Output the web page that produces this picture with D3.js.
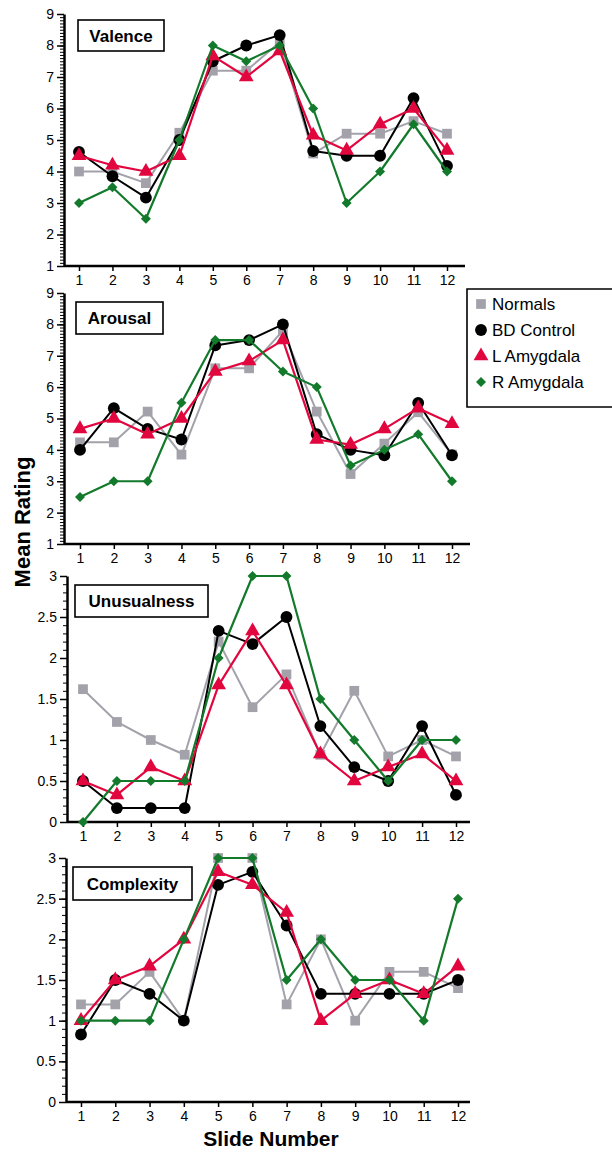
<!DOCTYPE html>
<html lang="en">
<head>
<meta charset="utf-8">
<script src="https://d3js.org/d3.v7.min.js"></script>
<style>
  body { margin: 0; background: #fff; }
  svg { font-family: "Liberation Sans", Arial, sans-serif; }
  .axis path, .axis line { stroke: #000; }
  .axis text { font-size: 14px; fill: #000; }
</style>
</head>
<body>
<svg id="chart" width="612" height="1152"></svg>
<script>
  // data
  const slides = [1, 2, 3, 4, 5, 6, 7, 8, 9, 10, 11, 12];
  const groups = ["Normals", "BD Control", "L Amygdala", "R Amygdala"];
  const measures = ["Valence", "Arousal", "Unusualness", "Complexity"];

  const valence = {
    "Normals":    [4.0, 4.0, 3.63, 5.23, 7.2, 7.2, 8.1, 4.57, 5.2, 5.2, 5.6, 5.2],
    "BD Control": [4.62, 3.85, 3.17, 5.0, 7.5, 8.0, 8.33, 4.65, 4.5, 4.5, 6.33, 4.18],
    "L Amygdala": [4.5, 4.2, 4.0, 4.5, 7.67, 7.0, 7.83, 5.15, 4.67, 5.5, 6.0, 4.67],
    "R Amygdala": [3.0, 3.5, 2.5, 5.0, 8.0, 7.5, 8.0, 6.0, 3.0, 4.0, 5.5, 4.0]
  };
  const arousal = {
    "Normals":    [4.24, 4.24, 5.22, 3.85, 6.6, 6.6, 7.8, 5.22, 3.23, 4.2, 5.2, 3.85],
    "BD Control": [4.0, 5.33, 4.67, 4.33, 7.33, 7.5, 8.0, 4.5, 4.0, 3.83, 5.5, 3.83],
    "L Amygdala": [4.67, 5.0, 4.5, 5.0, 6.5, 6.83, 7.5, 4.33, 4.17, 4.67, 5.33, 4.83],
    "R Amygdala": [2.5, 3.0, 3.0, 5.5, 7.5, 7.5, 6.5, 6.0, 3.5, 4.0, 4.5, 3.0]
  };
  const unusualness = {
    "Normals":    [1.62, 1.22, 1.0, 0.82, 2.2, 1.4, 1.8, 0.82, 1.6, 0.8, 1.0, 0.8],
    "BD Control": [0.5, 0.17, 0.17, 0.17, 2.33, 2.17, 2.5, 1.17, 0.67, 0.5, 1.17, 0.33],
    "L Amygdala": [0.5, 0.33, 0.67, 0.5, 1.67, 2.33, 1.67, 0.83, 0.5, 0.67, 0.83, 0.5],
    "R Amygdala": [0.0, 0.5, 0.5, 0.5, 2.0, 3.0, 3.0, 1.5, 1.0, 0.5, 1.0, 1.0]
  };
  const complexity = {
    "Normals":    [1.2, 1.2, 1.6, 1.0, 3.0, 3.0, 1.2, 2.0, 1.0, 1.6, 1.6, 1.4],
    "BD Control": [0.83, 1.5, 1.33, 1.0, 2.67, 2.83, 2.17, 1.33, 1.33, 1.33, 1.33, 1.5],
    "L Amygdala": [1.0, 1.5, 1.67, 2.0, 2.83, 2.67, 2.33, 1.0, 1.33, 1.5, 1.33, 1.67],
    "R Amygdala": [1.0, 1.0, 1.0, 2.0, 3.0, 3.0, 1.5, 2.0, 1.5, 1.5, 1.0, 2.5]
  };
  const seriesData = [valence, arousal, unusualness, complexity];

  const ratingTicks = [1, 2, 3, 4, 5, 6, 7, 8, 9];
  const smallTicks = [0, 0.5, 1, 1.5, 2, 2.5, 3];

  // layout of each panel
  const panels = [
    { domain: [1, 9], ticks: ratingTicks, top: 14, bottom: 266, axisX: 64, x1: 79, x12: 447, end: 465, box: [78, 20, 86, 31] },
    { domain: [1, 9], ticks: ratingTicks, top: 293, bottom: 544, axisX: 64, x1: 80, x12: 452, end: 470, box: [76, 302, 87, 32] },
    { domain: [0, 3], ticks: smallTicks, top: 576, bottom: 822, axisX: 67, x1: 83, x12: 456, end: 470, box: [75, 585, 133, 32] },
    { domain: [0, 3], ticks: smallTicks, top: 858, bottom: 1102, axisX: 66, x1: 81, x12: 458, end: 470, box: [73, 867, 119, 33] }
  ];

  const color = d3.scaleOrdinal().domain(groups)
    .range(["#a3a2ab", "#000000", "#e2063f", "#137a2c"]);
  // diamond = square turned 45 degrees
  const symbol = d3.scaleOrdinal().domain(groups)
    .range([d3.symbolSquare, d3.symbolCircle, d3.symbolTriangle, d3.symbolSquare]);
  const symRot = d3.scaleOrdinal().domain(groups).range([0, 0, 0, 45]);
  const symSize = d3.scaleOrdinal().domain(groups).range([95, 110, 95, 50]);
  const lineW = d3.scaleOrdinal().domain(groups).range([2, 2, 2.2, 2.2]);

  const svg = d3.select("#chart");

  panels.forEach((p, i) => {
    const g = svg.append("g");
    const x = d3.scaleLinear().domain([1, 12]).range([p.x1, p.x12]);
    const y = d3.scaleLinear().domain(p.domain).range([p.bottom, p.top]);

    // minor ticks every 0.1
    const minor = d3.range(Math.round(p.domain[0] * 10), Math.round(p.domain[1] * 10) + 1).map(d => d / 10);
    g.append("g")
      .attr("class", "axis")
      .attr("transform", `translate(${p.axisX},0)`)
      .call(d3.axisLeft(y).tickValues(minor).tickSize(4).tickFormat(""))
      .call(s => s.select(".domain").remove())
      .selectAll("line").attr("stroke-width", 1);

    g.append("g")
      .attr("class", "axis")
      .attr("transform", `translate(${p.axisX},0)`)
      .call(d3.axisLeft(y).tickValues(p.ticks).tickSize(7).tickSizeOuter(0).tickPadding(3)
        .tickFormat(d => d3.format("")(d)))
      .call(s => s.select(".domain").attr("stroke-width", 2.5))
      .selectAll("line").attr("stroke-width", 1.5);

    const xAxisG = g.append("g")
      .attr("class", "axis")
      .attr("transform", `translate(0,${p.bottom})`)
      .call(d3.axisBottom(x).tickValues(slides).tickSize(5).tickPadding(4).tickFormat(d3.format("d")));
    xAxisG.select(".domain")
      .attr("d", `M${p.axisX},0H${p.end}`)
      .attr("stroke-width", 2.5);
    xAxisG.selectAll("line").attr("stroke-width", 1.5);

    // title box
    g.append("rect")
      .attr("x", p.box[0]).attr("y", p.box[1])
      .attr("width", p.box[2]).attr("height", p.box[3])
      .attr("fill", "#fff").attr("stroke", "#000").attr("stroke-width", 1.6);
    g.append("text")
      .attr("x", p.box[0] + p.box[2] / 2)
      .attr("y", p.box[1] + p.box[3] / 2 + 6)
      .attr("text-anchor", "middle")
      .attr("font-size", 17).attr("font-weight", "bold")
      .text(measures[i]);

    const line = d3.line().x((d, j) => x(slides[j])).y(d => y(d));
    const data = seriesData[i];

    groups.forEach(gr => {
      g.append("path")
        .datum(data[gr])
        .attr("d", line)
        .attr("fill", "none")
        .attr("stroke", color(gr))
        .attr("stroke-width", lineW(gr))
        .attr("stroke-linejoin", "round");
      g.selectAll(null)
        .data(data[gr])
        .join("path")
        .attr("transform", (d, j) => `translate(${x(slides[j])},${y(d)}) rotate(${symRot(gr)})`)
        .attr("d", d3.symbol().type(symbol(gr)).size(symSize(gr)))
        .attr("fill", color(gr));
    });
  });

  // legend
  const legend = svg.append("g");
  legend.append("path")
    .attr("d", "M620,289H467V407H620")
    .attr("fill", "none").attr("stroke", "#000").attr("stroke-width", 1.6);
  const legY = d3.scalePoint().domain(groups).range([304, 382]);
  groups.forEach(gr => {
    legend.append("path")
      .attr("transform", `translate(481,${legY(gr)}) rotate(${symRot(gr)})`)
      .attr("d", d3.symbol().type(symbol(gr)).size(symSize(gr)))
      .attr("fill", color(gr));
    legend.append("text")
      .attr("x", 492).attr("y", legY(gr) + 6)
      .attr("font-size", 17)
      .text(gr);
  });

  // axis titles
  svg.append("text")
    .attr("transform", "translate(30,522) rotate(-90)")
    .attr("text-anchor", "middle")
    .attr("font-size", 22).attr("font-weight", "bold")
    .text("Mean Rating");
  svg.append("text")
    .attr("x", 271).attr("y", 1146)
    .attr("text-anchor", "middle")
    .attr("font-size", 21).attr("font-weight", "bold")
    .text("Slide Number");
</script>
</body>
</html>
